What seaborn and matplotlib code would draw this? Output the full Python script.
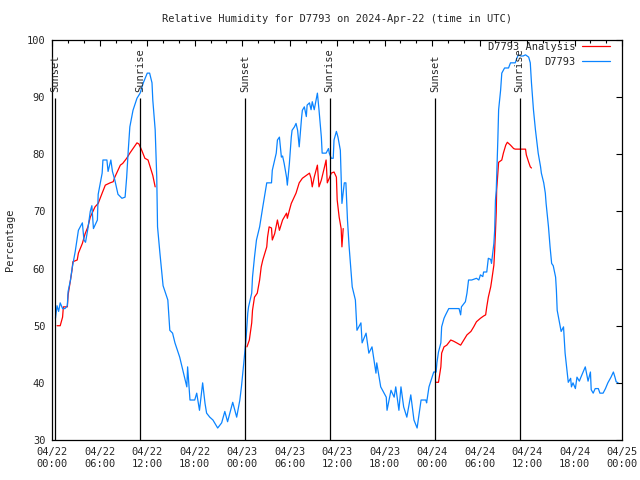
import pandas as pd
import numpy as np
import matplotlib
matplotlib.use('Agg')
import matplotlib.pyplot as plt
import matplotlib.dates as mdates
from matplotlib.lines import Line2D
import seaborn as sns

START = pd.Timestamp('2024-04-22 00:00')

# observed RH (hours since 04/22 00:00, percent)
obs_hours = [0.4, 0.6, 0.8, 1.0, 1.3, 1.6, 1.9, 2.0, 2.3, 2.5, 2.9, 3.3, 3.8, 4.0, 4.2, 4.5, 4.8, 5.0, 5.2, 5.7,
             5.8, 6.3, 6.4, 6.9, 7.05, 7.4, 7.6, 7.9, 8.3, 8.8, 9.2, 9.4, 9.6, 9.8, 10.2, 10.7, 11.1, 11.5, 12.0, 12.3,
             12.6, 12.7, 13.0, 13.2, 13.3, 13.6, 14.0, 14.6, 14.85, 15.2, 15.5, 16.1, 16.5, 17.0, 17.1, 17.4, 18.0, 18.25, 18.6, 19.0,
             19.3, 19.5, 19.9, 20.3, 20.9, 21.4, 21.8, 22.15, 22.8, 23.3, 23.7, 23.9, 24.2, 24.5, 24.7, 24.8, 25.2, 25.3, 25.55, 25.8,
             26.2, 26.6, 27.1, 27.7, 27.8, 28.3, 28.45, 28.7, 28.95, 29.1, 29.3, 29.6, 29.7, 29.96, 30.2, 30.3, 30.6, 30.8, 31.0, 31.2,
             31.5, 31.6, 31.85, 32.1, 32.2, 32.5, 32.7, 32.85, 33.1, 33.4, 33.5, 33.7, 34.0, 34.1, 34.6, 34.9, 35.0, 35.25, 35.5, 35.6,
             35.9, 36.1, 36.4, 36.6, 36.9, 37.1, 37.3, 37.5, 37.9, 38.3, 38.5, 39.0, 39.15, 39.65, 40.0, 40.4, 40.9, 41.0, 41.5, 42.2,
             42.3, 42.8, 43.2, 43.4, 43.8, 44.06, 44.4, 44.8, 45.3, 45.7, 46.1, 46.6, 47.2, 47.3, 47.6, 48.0, 48.2, 48.5, 48.6, 48.8,
             49.1, 49.2, 49.5, 49.7, 50.1, 51.4, 51.6, 51.7, 52.2, 52.4, 52.6, 53.0, 53.6, 53.9, 54.1, 54.4, 54.5, 54.9, 55.1, 55.4,
             55.5, 55.8, 55.9, 56.0, 56.1, 56.3, 56.4, 56.65, 56.8, 57.15, 57.65, 57.9, 58.5, 58.7, 58.9, 59.2, 59.5, 59.8, 60.2, 60.4,
             60.55, 60.8, 61.05, 61.2, 61.4, 61.7, 61.8, 62.1, 62.3, 62.4, 62.7, 62.9, 63.1, 63.3, 63.6, 63.7, 63.8, 64.2, 64.3, 64.6,
             64.8, 65.2, 65.5, 65.6, 65.8, 66.1, 66.3, 66.6, 66.8, 67.35, 67.5, 67.7, 68.0, 68.1, 68.35, 68.6, 69.0, 69.2, 69.6, 69.9,
             70.2, 70.6, 70.9, 71.1, 71.25, 71.5]
obs_rh = [51.3, 53.5, 52.5, 54, 53, 53, 53.5, 56, 58, 60, 63, 66.7, 68, 65, 64.6, 67, 70, 71, 67, 68.5,
          73, 76.7, 79, 79, 77, 79, 77, 75.5, 73, 72.3, 72.5, 76, 80.7, 84.8, 87.7, 89.8, 90.7, 92.5, 94.2, 94.2,
          92.5, 89.5, 84.3, 76, 67.3, 62.7, 57, 54.5, 49.2, 48.7, 47, 44.5, 42.2, 39.3, 42.8, 37, 37, 38.2, 35.2, 40,
          36.4, 34.7, 34, 33.5, 32.1, 33, 35, 33.2, 36.6, 34, 37, 39.3, 43.5, 48, 52.2, 53.3, 55.7, 58.5, 62, 65,
          67.3, 70.8, 75, 75, 77.2, 80.2, 82.5, 83, 79.5, 79.7, 78.4, 76, 74.6, 78.4, 83, 84.2, 84.8, 85.4, 84.2, 81.3,
          86.4, 87.7, 88.3, 86.6, 88.6, 89, 87.8, 89.2, 87.8, 90, 90.7, 87.8, 83, 80.2, 80.2, 81, 80.2, 79.3, 79.3, 82.5,
          84, 83, 80.7, 71.4, 75, 75, 68.5, 64, 56.8, 54.5, 49.2, 50.5, 47, 48.7, 45.2, 46.3, 41.7, 43.5, 39.3, 37.5,
          35.2, 38.7, 37.5, 39.3, 35.2, 39.3, 35.8, 34, 37.9, 33.5, 32.1, 37, 37, 36.5, 39.3, 41, 41.9, 41.9, 43.5, 45.4,
          47, 49.8, 51.3, 51.9, 53, 53, 51.9, 53.3, 54.2, 55.7, 58, 58, 58.3, 58, 58.9, 58.6, 59.4, 59.4, 61.8, 61.6,
          60.9, 64.4, 66.7, 72, 73.7, 82.5, 87.8, 91.2, 94.2, 95.1, 95.1, 96, 96, 96.8, 97.4, 97.2, 97.2, 97.4, 97, 96,
          92.5, 87.8, 84.3, 82.5, 80.2, 77.8, 76.7, 75, 73.2, 71.4, 67.3, 63.8, 60.9, 60.5, 58.5, 56.2, 52.7, 49.8, 49, 49.8,
          45.2, 40.1, 40.8, 39.3, 40, 39, 41, 40.3, 41, 42.8, 41.7, 40.3, 41.9, 38.8, 38.2, 39, 39, 38.2, 38.2, 39,
          40, 41, 41.9, 41, 40.2, 40]

# analysis RH, three daytime segments
ana1_hours = [0.6, 1.0, 1.3, 1.4, 1.9, 2.0, 2.3, 2.5, 2.6, 3.15, 3.3, 3.8, 4.15, 4.5, 4.8, 5.4, 5.8, 6.3, 6.7, 7.3,
              7.7, 7.9, 8.3, 8.6, 8.9, 9.4, 9.8, 10.2, 10.7, 10.95, 11.3, 11.7, 12.1, 12.3, 12.7, 13.0]
ana1_rh = [50, 50, 51.5, 53.3, 53.3, 55.4, 58, 59.8, 61.2, 61.5, 62.7, 64.4, 66.1, 67.3, 69, 70.8, 71.4, 73.2, 74.6, 75,
           75.2, 76, 77.2, 78.1, 78.4, 79.3, 80.2, 81, 82, 81.8, 80.7, 79.3, 79, 78.1, 76.3, 74.3]
ana2_hours = [24.6, 24.9, 25.2, 25.3, 25.55, 25.9, 26.2, 26.4, 26.6, 27.1, 27.2, 27.4, 27.7, 27.8, 28.1, 28.45, 28.7, 29.1, 29.6, 29.7,
              29.96, 30.2, 30.8, 31.2, 31.6, 32.5, 32.7, 32.85, 33.1, 33.5, 33.7, 34.0, 34.4, 34.6, 34.75, 35.0, 35.25, 35.6, 35.9, 36.0,
              36.25, 36.5, 36.6, 36.76]
ana2_rh = [46.3, 47.5, 50.5, 52.7, 55, 55.7, 58, 60.3, 61.5, 63.8, 65.5, 67.3, 67.1, 65, 66.1, 68.5, 66.7, 68.5, 69.7, 68.8,
           70.2, 71.4, 73.2, 75, 75.8, 76.7, 75.8, 74.3, 76, 78.1, 74.3, 75.5, 77.8, 79, 75, 75.8, 76.7, 76.9, 76, 72,
           69, 67, 63.8, 67]
ana3_hours = [48.5, 48.8, 49.1, 49.2, 49.5, 49.85, 50.35, 50.7, 51.1, 51.6, 52.0, 52.4, 52.9, 53.25, 53.6, 54.1, 54.5, 54.76, 54.9, 55.1,
              55.4, 55.5, 55.8, 55.9, 56.0, 56.1, 56.15, 56.4, 56.8, 57.0, 57.3, 57.5, 57.9, 58.3, 58.5, 59.8, 59.9, 60.2, 60.4, 60.55]
ana3_rh = [40.1, 40.1, 42.8, 45.2, 46.3, 46.6, 47.5, 47.3, 47, 46.6, 47.5, 48.4, 49, 49.8, 50.7, 51.3, 51.7, 51.9, 53.3, 55,
           56.8, 57.7, 60.6, 63.2, 66.4, 69.9, 73.7, 78.6, 79, 80.2, 81.6, 82.1, 81.6, 81, 80.9, 80.9, 79.9, 78.6, 77.8, 77.6]

sunset_hours = [0.35, 24.4, 48.4]
sunrise_hours = [11.1, 35.05, 59.05]

RED = '#ff0000'
BLUE = '#0a84ff'

obs = pd.DataFrame({'time': START + pd.to_timedelta(obs_hours, unit='h'), 'rh': obs_rh})
ana = pd.concat([
    pd.DataFrame({'time': START + pd.to_timedelta(h, unit='h'), 'rh': v, 'seg': i})
    for i, (h, v) in enumerate([(ana1_hours, ana1_rh), (ana2_hours, ana2_rh), (ana3_hours, ana3_rh)])
])

sns.set_style('white')
plt.rcParams['font.family'] = ['DejaVu Sans Mono']
FS = 7.5

fig = plt.figure(figsize=(6.4, 4.8), dpi=100)
ax = fig.add_axes([0.0817, 0.0833, 0.8903, 0.8334])

sns.lineplot(data=ana, x='time', y='rh', units='seg', estimator=None, color=RED,
             linewidth=0.9, ax=ax, legend=False)
sns.lineplot(data=obs, x='time', y='rh', color=BLUE, linewidth=0.9, ax=ax, legend=False)

for h in sunset_hours + sunrise_hours:
    t = START + pd.Timedelta(hours=h)
    ax.vlines(t, 30, 89.8, color='black', linewidth=0.9)
    ax.text(t, 90.9, 'Sunset' if h in sunset_hours else 'Sunrise', rotation=90,
            ha='center', va='bottom', fontsize=FS)

ax.set_xlim(START, START + pd.Timedelta(days=3))
ax.set_ylim(30, 100)
ax.set_yticks(np.arange(30, 101, 10))
ax.xaxis.set_major_locator(mdates.HourLocator(byhour=[0, 6, 12, 18]))
ax.xaxis.set_minor_locator(mdates.HourLocator(byhour=range(0, 24, 2)))
ax.xaxis.set_major_formatter(mdates.DateFormatter('%m/%d\n%H:%M'))
ax.tick_params(which='both', direction='in', top=True, right=True, labelsize=FS, width=0.8, color='black')
ax.tick_params(which='major', length=4.5, pad=5)
ax.tick_params(which='minor', length=2.5)
for s in ax.spines.values():
    s.set_color('black')
    s.set_linewidth(0.9)

ax.set_xlabel('')
ax.set_ylabel('Percentage', fontsize=FS, labelpad=8)
ax.set_title('Relative Humidity for D7793 on 2024-Apr-22 (time in UTC)', fontsize=FS, pad=13)

handles = [Line2D([], [], color=RED, linewidth=0.9), Line2D([], [], color=BLUE, linewidth=0.9)]
ax.legend(handles, ['D7793 Analysis', 'D7793'], loc='upper right', bbox_to_anchor=(0.982, 1.0),
          frameon=False, markerfirst=False, fontsize=FS, handlelength=2.7, borderaxespad=0,
          borderpad=0.2, labelspacing=0.45, handletextpad=0.6)

plt.savefig('out.png', dpi=100)
